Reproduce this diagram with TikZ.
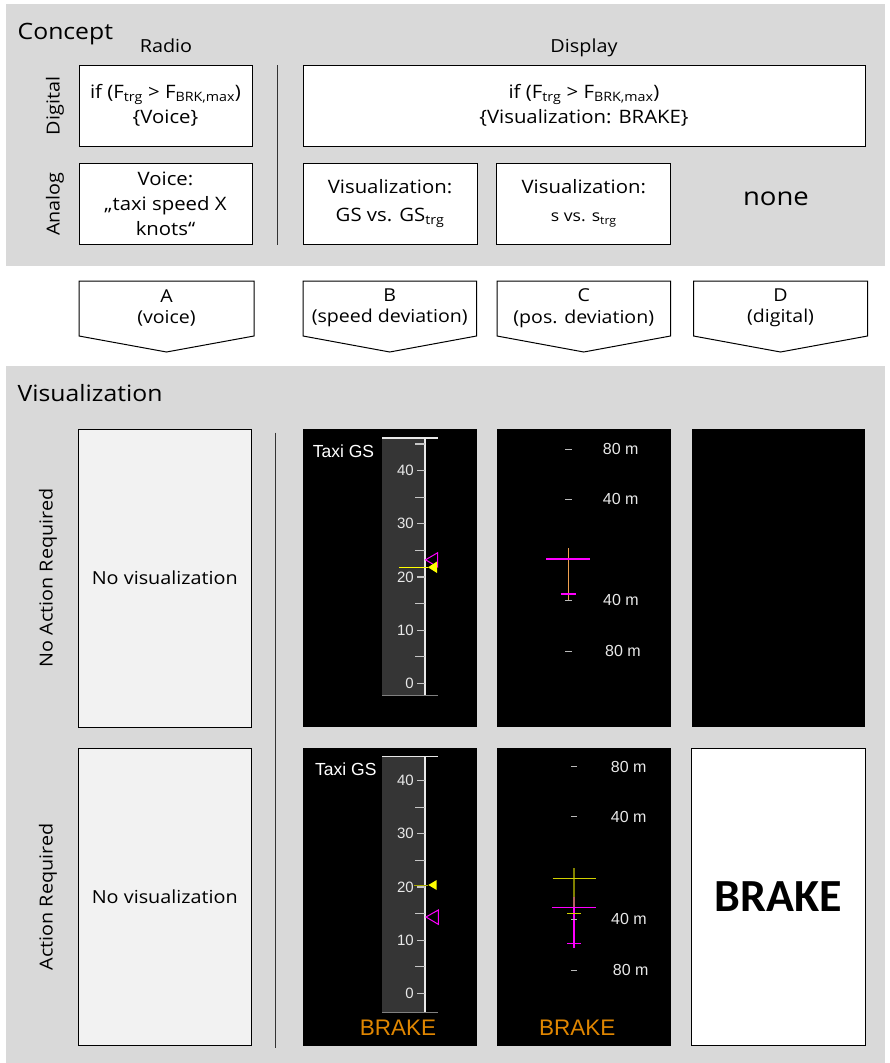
\documentclass[tikz,border=0pt]{standalone}
\usepackage{fontspec}
\setmainfont{Open Sans}[FakeStretch=1.1]
\newfontfamily\instrfont{Liberation Sans}
\newfontfamily\alertfont{Carlito}

\definecolor{panelgray}{HTML}{D9D9D9}
\definecolor{boxgray}{HTML}{F2F2F2}
\definecolor{tapegray}{HTML}{353535}
\definecolor{scalewhite}{HTML}{E8E8E8}
\definecolor{cmdmagenta}{HTML}{FF00FF}
\definecolor{acyellow}{HTML}{FFFF00}
\definecolor{dimyellow}{HTML}{D0D000}
\definecolor{trkolive}{HTML}{808000}
\definecolor{trksalmon}{HTML}{B06060}
\definecolor{brakeorange}{HTML}{E08600}
\definecolor{guideorange}{HTML}{F0A050}

\newcommand\boxfont{\fontsize{18.5}{25}\selectfont}

\tikzset{
  panel/.style={fill=panelgray},
  conceptbox/.style={draw=black, line width=1pt, fill=white, align=center,
    inner sep=0pt, font=\boxfont},
  heading/.style={anchor=base west, inner sep=0pt, font=\fontsize{22.5}{27}\selectfont},
  colhead/.style={anchor=base, inner sep=0pt, font=\fontsize{18}{22}\selectfont},
  rowlabel/.style={rotate=90, inner sep=0pt, font=\fontsize{18}{22}\selectfont},
  arrowbox/.style={draw=black, line width=1pt, fill=white},
  arrowtext/.style={align=center, inner sep=0pt, font=\fontsize{17.8}{21.5}\selectfont},
  divider/.style={draw=black!80, line width=1.3pt},
  blankscreen/.style={draw=black, line width=1.1pt, fill=boxgray, inner sep=0pt,
    font=\fontsize{18}{22}\selectfont},
  screen/.style={fill=black, inner sep=0pt},
  alertscreen/.style={draw=black, line width=1.1pt, fill=white, inner sep=0pt},
  tapeline/.style={draw=scalewhite, line width=1.2pt},
  tapetick/.style={draw=scalewhite!85!black, line width=1.2pt},
  tapenum/.style={anchor=east, inner sep=0pt, text=scalewhite,
    font=\instrfont\fontsize{15}{18}\selectfont},
  gslabel/.style={anchor=west, inner sep=0pt, text=white,
    font=\instrfont\fontsize{17.5}{20}\selectfont},
  distlabel/.style={anchor=west, inner sep=0pt, text=scalewhite,
    font=\instrfont\fontsize{16}{19}\selectfont},
  distick/.style={draw=scalewhite!80!black, line width=1pt},
  brakecue/.style={inner sep=0pt, text=brakeorange,
    font=\instrfont\fontsize{22.5}{26}\selectfont},
}

% chevron-shaped option label: name, left x, right x, text
\newcommand\optchevron[4]{%
  \draw[arrowbox] (#2,281) -- (#3,281) -- (#3,336) -- ({(#2+#3)/2},352)
    -- (#2,336) -- cycle;
  \node[arrowtext] (#1) at ({(#2+#3)/2},308) {#4};
}

% ground-speed tape: name prefix, y of 0 kt, top y, bottom y, minor marks
\newcommand\gstape[5]{%
  \fill[tapegray] (382,#3) rectangle (425,#4);
  \draw[tapeline] (425,#3) -- (425,#4);
  \draw[tapeline] (382,#3) -- (438,#3);
  \draw[draw=gray, line width=1.2pt] (382,#4) -- (438,#4);
  \foreach \v in {0,10,20,30,40} {
    \draw[tapetick] (417,{#2-5.32*\v}) -- (425,{#2-5.32*\v});
    \node[tapenum] (#1n\v) at (414,{#2-5.32*\v}) {\v};
  }
  \foreach \v in {#5} {
    \draw[tapetick] (415,{#2-5.32*\v}) -- (425,{#2-5.32*\v});
  }
}

\begin{document}
\begin{tikzpicture}[x=1pt, y=-1pt]
  \fill[white] (0,0) rectangle (890,1063);
  \useasboundingbox (0,0) rectangle (890,1063);

  % ---------------- concept panel ----------------
  \fill[panel] (6,4) rectangle (885,265.5);
  \node[heading] (hConcept) at (17.5,39) {Concept};
  \node[colhead] (hRadio) at (166,52) {Radio};
  \node[colhead] (hDisplay) at (584,52) {Display};
  \node[rowlabel] (lDigital) at (55,106) {Digital};
  \node[rowlabel] (lAnalog) at (55,204) {Analog};

  \node[conceptbox, minimum width=173pt, minimum height=81pt] (radioDig) at (165.5,105.5)
    {if (F\textsubscript{trg} > F\textsubscript{BRK,max})\\\{Voice\}};
  \node[conceptbox, minimum width=562pt, minimum height=81pt] (dispDig) at (584,105.5)
    {if (F\textsubscript{trg} > F\textsubscript{BRK,max})\\\{Visualization: BRAKE\}};
  \node[conceptbox, minimum width=173pt, minimum height=81pt] (radioAna) at (165.5,203.5)
    {Voice:\\„taxi speed X\\knots“};
  \node[conceptbox, minimum width=174pt, minimum height=81pt] (dispB) at (390,203.5)
    {Visualization:\\[3pt]GS vs. GS\textsubscript{trg}};
  \node[conceptbox, minimum width=174pt, minimum height=81pt] (dispC) at (583.8,203.5)
    {Visualization:\\[3pt]{\fontsize{16}{20}\selectfont s vs. s\textsubscript{trg}}};
  \node[inner sep=0pt, font=\fontsize{25}{29}\selectfont] (dispD) at (776,199) {none};

  \coordinate (divTopA) at (277.7,65);
  \coordinate (divTopB) at (277.7,245);
  \draw[divider] (divTopA) -- (divTopB);

  % ---------------- option chevrons ----------------
  \optchevron{optA}{79}{254}{A\\(voice)}
  \optchevron{optB}{303}{476.5}{B\\(speed deviation)}
  \optchevron{optC}{497}{670.5}{C\\(pos. deviation)}
  \optchevron{optD}{693.5}{867.5}{D\\(digital)}

  % ---------------- visualization panel ----------------
  \fill[panel] (6,366) rectangle (885,1063);
  \node[heading] (hVis) at (17.5,401) {Visualization};
  \node[rowlabel] (lNoAct) at (48,578) {No Action Required};
  \node[rowlabel] (lAct) at (48,897) {Action Required};

  \coordinate (divBotA) at (275.5,432.7);
  \coordinate (divBotB) at (275.5,1048);
  \draw[divider] (divBotA) -- (divBotB);

  % voice option: nothing displayed
  \node[blankscreen, minimum width=173.5pt, minimum height=297.7pt] (scrA1) at (164.8,578.2)
    {No visualization};
  \node[blankscreen, minimum width=173.5pt, minimum height=297.7pt] (scrA2) at (164.8,896.9)
    {No visualization};

  % black display screens
  \node[screen, minimum width=174.5pt, minimum height=297.7pt] (scrB1) at (390,578.2) {};
  \node[screen, minimum width=174pt, minimum height=297.7pt] (scrC1) at (583.8,578.2) {};
  \node[screen, minimum width=173.5pt, minimum height=297.7pt] (scrD1) at (778.3,578.2) {};
  \node[screen, minimum width=174.5pt, minimum height=297.7pt] (scrB2) at (390,896.9) {};
  \node[screen, minimum width=174pt, minimum height=297.7pt] (scrC2) at (583.8,896.9) {};
  \node[alertscreen, minimum width=173.5pt, minimum height=297.7pt] (scrD2) at (778.3,896.9) {};

  % speed tape, no action required
  \gstape{ta}{683.3}{438}{695.7}{5,15,25,35,45}
  \node[gslabel] (gsA) at (312.7,451.7) {Taxi GS};
  \draw[cmdmagenta, line width=1pt] (425.5,559.8) -- (437.7,552.7) -- (437.7,567) -- cycle;
  \draw[acyellow, line width=1pt] (399,567.3) -- (428,567.3);
  \fill[acyellow] (428,567.3) -- (437,561.5) -- (437,573) -- cycle;

  % speed tape, action required
  \gstape{tb}{993.3}{756.7}{1012.7}{5,15,25,35}
  \node[gslabel] (gsB) at (315,769) {Taxi GS};
  \draw[trkolive!70!yellow, line width=1pt] (414,885) -- (428,885);
  \fill[acyellow] (428.3,885) -- (436.7,880) -- (436.7,890) -- cycle;
  \draw[cmdmagenta, line width=1pt] (426,917) -- (438.3,910) -- (438.3,924.3) -- cycle;
  \node[brakecue] (cueB) at (398,1028) {BRAKE};

  % position deviation, no action required
  \foreach \ty/\tx/\lab [count=\i] in {449.3/602.7/80, 499.3/602.7/40, 600/603/40, 651/605/80} {
    \draw[distick] (565,\ty) -- (571.7,\ty);
    \node[distlabel] (pa\i) at (\tx,\ty) {\lab\ m};
  }
  \draw[guideorange, line width=1.3pt] (568.3,548.3) -- (568.3,600);
  \draw[cmdmagenta, line width=2pt] (546,559) -- (590,559);
  \draw[cmdmagenta, line width=2pt] (560.7,594) -- (575.7,594);

  % position deviation, action required
  \draw[trkolive, line width=1.5pt] (574,868.3) -- (574,896.7);
  \draw[trksalmon, line width=1.5pt] (574,896.7) -- (574,906.7);
  \draw[cmdmagenta, line width=2pt] (574,906.7) -- (574,948.3);
  \draw[dimyellow, line width=1pt] (552.7,878.3) -- (595.7,878.3);
  \draw[cmdmagenta, line width=1pt] (552.3,907.3) -- (595.7,907.3);
  \draw[dimyellow, line width=1pt] (567.3,913.3) -- (581,913.3);
  \draw[cmdmagenta, line width=1pt] (567.3,943.3) -- (581,943.3);
  \foreach \ty/\tx/\lab [count=\i] in {766.7/610.7/80, 816.7/610.7/40, 919/611/40, 970/612.7/80} {
    \draw[distick] (571,\ty) -- (577.3,\ty);
    \node[distlabel] (pb\i) at (\tx,\ty) {\lab\ m};
  }
  \node[brakecue] (cueC) at (577.3,1027.7) {BRAKE};

  % digital option: alert text
  \node[inner sep=0pt, font=\alertfont\bfseries\fontsize{46}{50}\selectfont] (alertD) at (778.5,896.7) {BRAKE};
\end{tikzpicture}
\end{document}
